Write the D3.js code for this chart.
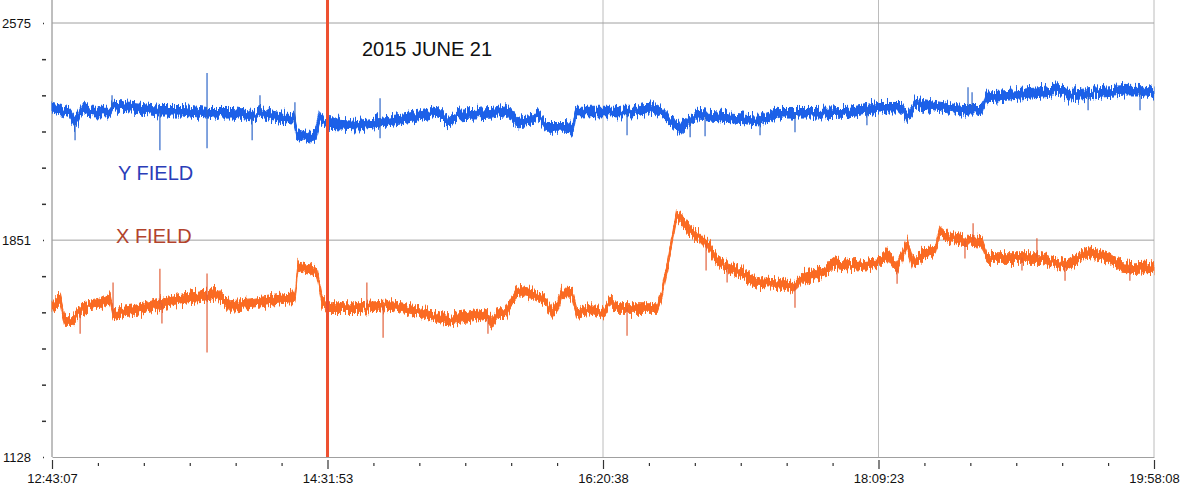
<!DOCTYPE html>
<html>
<head>
<meta charset="utf-8">
<script src="https://cdn.jsdelivr.net/npm/d3@7"></script>
<style>
  body { margin: 0; background: #fff; }
  svg { display: block; font-family: Arial, "Liberation Sans", sans-serif; }
</style>
</head>
<body>
<div id="chart"></div>
<script>
var width = 1182;
var height = 488;

// time in minutes after 12:43:07, span of the record
var tEnd = 435.02;
var xTickLabels = ["12:43:07", "14:31:53", "16:20:38", "18:09:23", "19:58:08"];
var yTickLabels = [1128, 1851, 2575];
var eventTime = 108.76; // red marker at 14:31:53

// Y FIELD (blue) trace
var yTime = [0, 3.9, 7.1, 9.1, 10.3, 12.2, 15.8, 18.9, 22.9, 24.1, 32.0, 42.6, 51.7, 61.2, 71.5, 79.0, 82.1, 91.2, 95.5, 96.7,
  101.9, 104.2, 105.8, 107.8, 120.8, 129.5, 140.5, 152.4, 156.3, 160.3, 173.7, 180.0, 183.6, 189.5, 191.8, 195.4, 202.5, 205.7, 206.8, 213.1,
  229.3, 237.2, 241.2, 243.9, 247.9, 250.7, 254.6, 268.8, 279.5, 287.4, 302.0, 315.0, 326.1, 335.5, 337.5, 340.7, 351.3, 359.2, 367.1, 368.7,
  377.4, 390.8, 398.7, 401.1, 410.5, 423.6, 428.7, 435.0];
var yValue = [2291, 2284, 2274, 2244, 2258, 2294, 2278, 2278, 2278, 2298, 2294, 2284, 2284, 2274, 2274, 2264, 2274, 2258, 2258, 2207,
  2194, 2211, 2264, 2241, 2234, 2244, 2258, 2278, 2244, 2268, 2274, 2284, 2244, 2251, 2274, 2227, 2227, 2224, 2278, 2278,
  2278, 2294, 2274, 2251, 2224, 2244, 2268, 2258, 2251, 2274, 2274, 2278, 2294, 2294, 2261, 2308, 2294, 2284, 2284, 2328,
  2334, 2344, 2351, 2334, 2341, 2351, 2351, 2344];
var ySpikeTime = [9.1, 23.7, 42.6, 61.2, 61.2, 79.0, 82.1, 95.9, 129.5, 129.5, 227.0, 251.9, 257.8, 279.5, 293.3, 321.7, 337.5, 361.6, 363.2, 409.0, 429.5];
var ySpikeTip = [2184, 2334, 2151, 2408, 2157, 2184, 2334, 2311, 2324, 2191, 2201, 2194, 2197, 2201, 2211, 2234, 2244, 2361, 2344, 2284, 2284];

// X FIELD (orange) trace
var xTime = [0, 3.2, 5.1, 8.3, 12.2, 18.9, 22.9, 24.1, 32.0, 42.6, 51.7, 62.4, 65.1, 70.3, 78.2, 91.2, 95.9, 97.1, 101.8, 104.6,
  106.6, 108.9, 120.8, 134.2, 147.2, 156.3, 163.0, 170.9, 173.7, 176.1, 178.8, 181.6, 183.6, 189.5, 194.6, 197.4, 199.7, 201.3, 205.3, 207.2,
  213.2, 217.5, 220.3, 223.0, 238.8, 240.8, 242.8, 244.7, 246.7, 248.7, 251.9, 255.8, 259.7, 262.5, 266.5, 272.8, 278.3, 286.2, 292.5, 296.5,
  305.9, 308.3, 316.2, 326.1, 330.0, 333.6, 337.5, 339.9, 343.4, 348.6, 350.5, 353.7, 359.2, 367.1, 369.1, 377.4, 390.8, 399.9, 409.0, 416.9,
  422.4, 427.5, 435.0];
var xValue = [1626, 1656, 1583, 1583, 1626, 1639, 1656, 1606, 1616, 1639, 1656, 1666, 1673, 1633, 1639, 1656, 1659, 1766, 1756, 1743,
  1649, 1626, 1626, 1633, 1609, 1583, 1593, 1606, 1573, 1606, 1606, 1649, 1683, 1673, 1649, 1609, 1633, 1676, 1673, 1609,
  1623, 1609, 1649, 1623, 1623, 1673, 1760, 1850, 1940, 1917, 1883, 1860, 1826, 1783, 1760, 1740, 1710, 1706, 1693, 1726,
  1750, 1773, 1766, 1776, 1806, 1756, 1840, 1773, 1806, 1816, 1883, 1860, 1850, 1843, 1793, 1793, 1793, 1766, 1810, 1793,
  1760, 1756, 1760];
var xSpikeTime = [11.1, 24.1, 42.6, 43.4, 61.2, 61.2, 124.3, 130.7, 172.1, 227.0, 258.2, 266.5, 293.3, 333.6, 360.4, 363.6, 382.9, 388.8, 399.9, 425.5];
var xSpikeTip = [1539, 1710, 1756, 1573, 1740, 1476, 1710, 1526, 1539, 1532, 1750, 1710, 1626, 1706, 1790, 1907, 1750, 1857, 1716, 1716];

var noise = 16; // half thickness of the noisy trace, field units

var svg = d3.select("#chart").append("svg")
  .attr("width", width)
  .attr("height", height);

// vertical jitter texture for the noisy traces
var filt = svg.append("defs").append("filter")
  .attr("id", "jitter")
  .attr("filterUnits", "userSpaceOnUse")
  .attr("x", 0).attr("y", 0).attr("width", width).attr("height", height);
filt.append("feTurbulence")
  .attr("type", "fractalNoise").attr("baseFrequency", "0.7 0.04")
  .attr("numOctaves", 2).attr("seed", 3).attr("result", "noise");
var ct = filt.append("feComponentTransfer").attr("in", "noise").attr("result", "vnoise");
ct.append("feFuncR").attr("type", "linear").attr("slope", 0).attr("intercept", 0.5);
filt.append("feDisplacementMap")
  .attr("in", "SourceGraphic").attr("in2", "vnoise")
  .attr("scale", 16).attr("xChannelSelector", "R").attr("yChannelSelector", "G");

var x = d3.scaleLinear().domain([0, tEnd]).range([52, 1154]);
var y = d3.scaleLinear().domain([1128, 2575]).range([457, 23]);

// grid and frame
var majorT = d3.range(5).map(function(i) { return i * tEnd / 4; });
svg.selectAll("line.vgrid").data(majorT).enter().append("line")
  .attr("class", "vgrid")
  .attr("x1", function(d) { return x(d); }).attr("x2", function(d) { return x(d); })
  .attr("y1", 0).attr("y2", y(1128))
  .style("stroke", "#bcbcbc").style("stroke-width", 1);
svg.selectAll("line.hgrid").data([1851, 2575]).enter().append("line")
  .attr("class", "hgrid")
  .attr("x1", x(0)).attr("x2", x(tEnd))
  .attr("y1", function(d) { return y(d); }).attr("y2", function(d) { return y(d); })
  .style("stroke", "#a0a0a0").style("stroke-width", 1);

// x axis
var xTicks = d3.range(25).map(function(i) { return i * tEnd / 24; });
var xAxis = svg.append("g")
  .attr("transform", "translate(0," + y(1128) + ")")
  .call(d3.axisBottom(x).tickValues(xTicks).tickSizeOuter(0).tickPadding(11)
    .tickFormat(function(d, i) { return i % 6 === 0 ? xTickLabels[i / 6] : ""; }));
xAxis.select(".domain").style("stroke", "#a0a0a0");
xAxis.selectAll(".tick line")
  .attr("y1", function(d, i) { return i % 6 === 0 ? 3 : 6; })
  .attr("y2", function(d, i) { return i % 6 === 0 ? 12 : 9; })
  .style("stroke", "#333").style("stroke-width", 1.2);
xAxis.selectAll(".tick text").style("font-size", "13px").style("fill", "#111");

// y axis
var yTicks = d3.range(13).map(function(i) { return 1128 + i * (2575 - 1128) / 12; });
var yAxis = svg.append("g")
  .attr("transform", "translate(" + x(0) + ",0)")
  .call(d3.axisLeft(y).tickValues(yTicks).tickSizeOuter(0).tickPadding(15)
    .tickFormat(function(d, i) { return i % 6 === 0 ? yTickLabels[i / 6] : ""; }));
yAxis.select(".domain").attr("d", "M0,0V" + y(1128)).style("stroke", "#a0a0a0");
yAxis.selectAll(".tick line")
  .attr("x1", function(d, i) { return i % 6 === 0 ? -9 : -10; })
  .attr("x2", function(d, i) { return i % 6 === 0 ? -8 : -6; })
  .style("stroke", "#333").style("stroke-width", 1.5);
yAxis.selectAll(".tick text").style("font-size", "13px").style("fill", "#111");

// traces
function drawTrace(times, values, spikeT, spikeV, color, spikeColor) {
  var pts = times.map(function(t, i) { return { t: t, v: values[i] }; });
  var area = d3.area()
    .x(function(d) { return x(d.t); })
    .y0(function(d) { return y(d.v - noise); })
    .y1(function(d) { return y(d.v + noise); });
  svg.append("path").datum(pts)
    .attr("d", area)
    .attr("filter", "url(#jitter)")
    .style("fill", color).style("stroke", color).style("stroke-width", 1);
  var valAt = d3.scaleLinear().domain(times).range(values);
  var spikes = spikeT.map(function(t, i) { return { t: t, v: spikeV[i] }; });
  svg.selectAll(null).data(spikes).enter().append("line")
    .attr("x1", function(d) { return x(d.t); }).attr("x2", function(d) { return x(d.t); })
    .attr("y1", function(d) { return y(valAt(d.t)); })
    .attr("y2", function(d) { return y(d.v); })
    .style("stroke", spikeColor).style("stroke-width", 1.2);
}
drawTrace(yTime, yValue, ySpikeTime, ySpikeTip, "#1a60e8", "#2f66c8");
drawTrace(xTime, xValue, xSpikeTime, xSpikeTip, "#fa6a22", "#e2603a");

// event marker
svg.append("line")
  .attr("x1", x(eventTime)).attr("x2", x(eventTime))
  .attr("y1", 0).attr("y2", y(1128))
  .style("stroke", "#ee5030").style("stroke-width", 3);

// labels
svg.append("text").attr("x", 362).attr("y", 56)
  .style("font-size", "20px").style("fill", "#111").text("2015 JUNE 21");
svg.append("text").attr("x", 118).attr("y", 180)
  .style("font-size", "20px").style("fill", "#2a3db8").text("Y FIELD");
svg.append("text").attr("x", 116).attr("y", 243)
  .style("font-size", "20px").style("fill", "#b2432c").text("X FIELD");
</script>
</body>
</html>
